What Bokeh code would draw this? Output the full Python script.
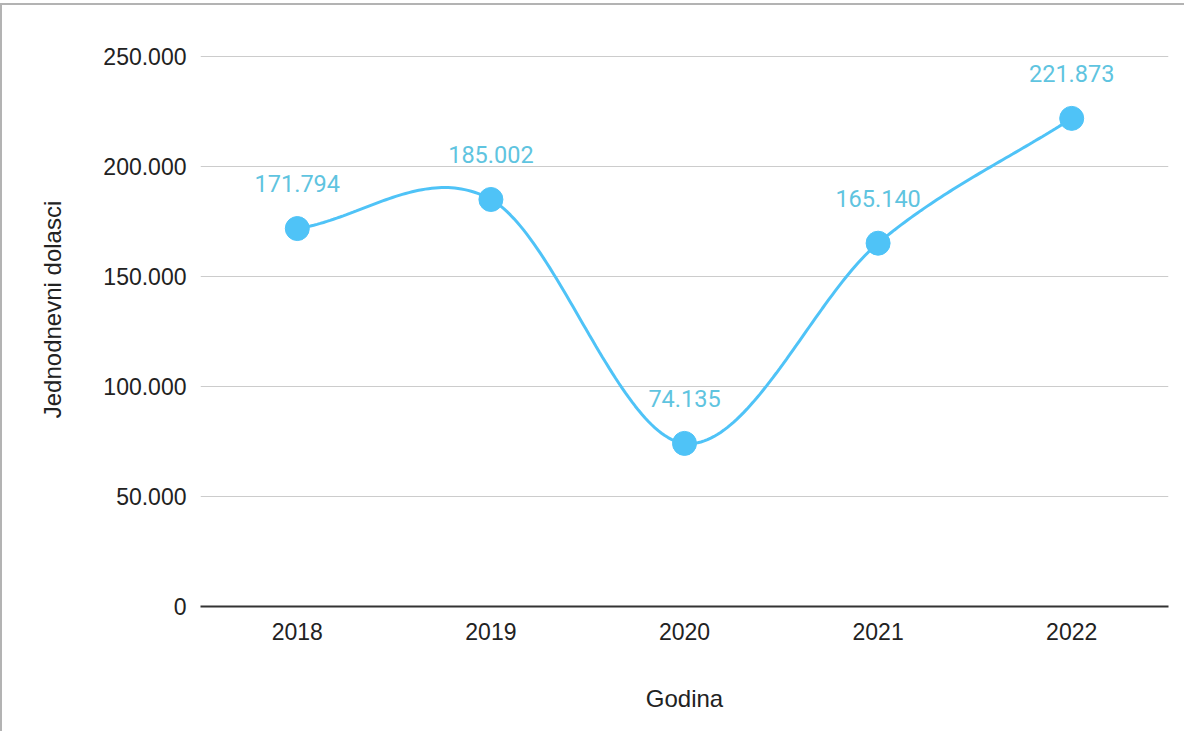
import numpy as np
from bokeh.plotting import figure
from bokeh.models import ColumnDataSource, FixedTicker, CustomJSTickFormatter, Range1d
from bokeh.core.properties import value
from bokeh.embed import file_html
from bokeh.resources import INLINE

years = ["2018", "2019", "2020", "2021", "2022"]
arrivals = [171794, 185002, 74135, 165140, 221873]
y_ticks = [0, 50000, 100000, 150000, 200000, 250000]
x_title = "Godina"
y_title = "Jednodnevni dolasci"

LINE = "#4fc3f7"
LABEL = "#5fc4e0"
AXFONT = "Liberation Sans"

# Catmull-Rom smoothing between the data points (for drawing the curve)
n = len(arrivals)
xs = np.arange(n) + 0.5
ys = np.array(arrivals, dtype=float)
tang = np.zeros(n)
tang[0] = ys[1] - ys[0]
tang[-1] = ys[-1] - ys[-2]
for i in range(1, n - 1):
    tang[i] = (ys[i + 1] - ys[i - 1]) / 2.0
cx, cy = [], []
for i in range(n - 1):
    t = np.linspace(0, 1, 60)
    h00 = 2 * t**3 - 3 * t**2 + 1
    h10 = t**3 - 2 * t**2 + t
    h01 = -2 * t**3 + 3 * t**2
    h11 = t**3 - t**2
    cy.extend(h00 * ys[i] + h10 * tang[i] + h01 * ys[i + 1] + h11 * tang[i + 1])
    cx.extend(xs[i] + t)

p = figure(width=1184, height=728, output_backend="svg", toolbar_location=None,
           x_range=Range1d(0, n), y_range=Range1d(0, 270000),
           min_border_left=198, min_border_right=18, min_border_top=7, min_border_bottom=127)
p.styles = {"border-top": "2px solid #b3b3b3", "border-left": "2px solid #b3b3b3",
            "margin-top": "3px"}
p.outline_line_color = None
p.background_fill_color = "white"
p.border_fill_color = "white"

src = ColumnDataSource(dict(x=list(xs), y=arrivals,
                            lab=[f"{v:,}".replace(",", ".") for v in arrivals]))
p.line(cx, cy, line_color=LINE, line_width=3)
p.scatter("x", "y", source=src, size=24, fill_color=LINE, line_color=LINE)
p.text("x", "y", text="lab", source=src, text_align="center", text_baseline="middle",
       y_offset=-45, text_font=value("Roboto"), text_font_size="23.5px", text_color=LABEL)

# x axis (category positions)
p.xaxis.ticker = FixedTicker(ticks=list(xs))
p.xaxis.major_label_overrides = {float(x): y for x, y in zip(xs, years)}
p.xaxis.axis_label = x_title
p.xaxis.axis_line_color = "#333333"
p.xaxis.axis_line_width = 2
p.xaxis.major_tick_line_color = None
p.xaxis.minor_tick_line_color = None
p.xaxis.major_label_standoff = 10
p.xaxis.axis_label_standoff = 42
p.xaxis.major_label_text_font = AXFONT
p.xaxis.major_label_text_font_size = "23px"
p.xaxis.major_label_text_color = "#222222"
p.xaxis.axis_label_text_font = AXFONT
p.xaxis.axis_label_text_font_size = "24px"
p.xaxis.axis_label_text_font_style = "normal"
p.xaxis.axis_label_text_color = "#222222"
p.xgrid.grid_line_color = None

p.yaxis.ticker = FixedTicker(ticks=y_ticks)
p.yaxis.formatter = CustomJSTickFormatter(code="return Math.round(tick).toString().replace(/\\B(?=(\\d{3})+(?!\\d))/g, '.');")
p.yaxis.axis_label = y_title
p.yaxis.axis_line_color = None
p.yaxis.major_tick_line_color = None
p.yaxis.minor_tick_line_color = None
p.yaxis.major_label_standoff = 8
p.yaxis.axis_label_standoff = 34
p.yaxis.major_label_text_font = AXFONT
p.yaxis.major_label_text_font_size = "23px"
p.yaxis.major_label_text_color = "#222222"
p.yaxis.axis_label_text_font = AXFONT
p.yaxis.axis_label_text_font_size = "24px"
p.yaxis.axis_label_text_font_style = "normal"
p.yaxis.axis_label_text_color = "#222222"
p.ygrid.grid_line_color = "#cccccc"
p.ygrid.grid_line_width = 1

open("out.html", "w").write(file_html(p, INLINE))
